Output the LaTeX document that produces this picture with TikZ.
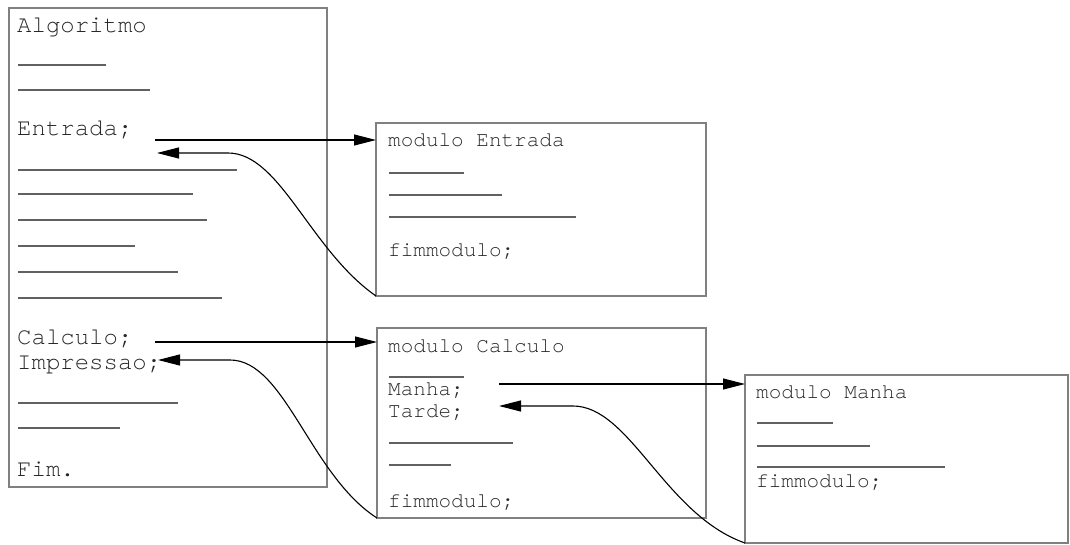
\documentclass[tikz,border=0pt]{standalone}
\usepackage{fontspec}
\setmonofont[Ligatures={NoCommon,NoRequired}]{TeX Gyre Cursor}
\usetikzlibrary{arrows.meta,calc}
\begin{document}
\begin{tikzpicture}[x=1pt,y=-1pt,
  box/.style={draw=black!50, line width=2.2pt, anchor=north west, inner sep=0pt, outer sep=0pt},
  big/.style={font=\ttfamily\fontsize{24}{28}\selectfont, text=black!85, anchor=base west, inner sep=0pt},
  small/.style={font=\ttfamily\fontsize{21}{25}\selectfont, text=black!85, anchor=base west, inner sep=0pt},
  rul/.style={draw=black!62, line width=1.8pt},
  conn/.style={draw=black, line width=1.1pt, -{Triangle[length=22pt,width=11pt]}}]
\useasboundingbox (0,0) rectangle (1070,545);
% boxes
\node[box, minimum width=318pt, minimum height=479pt] (main) at (9,8) {};
\node[box, minimum width=330pt, minimum height=173pt] (mEnt) at (376,123) {};
\node[box, minimum width=329pt, minimum height=190pt] (mCal) at (377,328) {};
\node[box, minimum width=323pt, minimum height=168pt] (mMan) at (745,375) {};
% main algorithm
\node[big] (tAlg) at (17,33) {Algoritmo};
\draw[rul] (18,65) -- (106,65);
\draw[rul] (18,90) -- (150,90);
\node[big] (tEnt) at (17,136) {Entrada;};
\draw[rul] (18,170) -- (237,170);
\draw[rul] (18,194) -- (193,194);
\draw[rul] (18,220) -- (207,220);
\draw[rul] (18,246) -- (135,246);
\draw[rul] (18,272) -- (178,272);
\draw[rul] (18,298) -- (222,298);
\node[big] (tCal) at (17,344) {Calculo;};
\node[big] (tImp) at (17,369) {Impressao;};
\draw[rul] (18,403) -- (178,403);
\draw[rul] (18,428) -- (120,428);
\node[big] (tFim) at (17,476) {Fim.};
% modulo Entrada
\node[small] (eHead) at (388,147) {modulo Entrada};
\draw[rul] (389,173) -- (464,173);
\draw[rul] (389,195) -- (502,195);
\draw[rul] (389,217) -- (576,217);
\node[small] (eEnd) at (388,256) {fimmodulo;};
% modulo Calculo
\node[small] (cHead) at (388,352) {modulo Calculo};
\draw[rul] (389,377) -- (464,377);
\node[small] (cMan) at (388,395) {Manha;};
\node[small] (cTar) at (388,417) {Tarde;};
\draw[rul] (389,443) -- (513,443);
\draw[rul] (389,465) -- (451,465);
\node[small] (cEnd) at (388,507) {fimmodulo;};
% modulo Manha
\node[small] (mHead) at (756,398) {modulo Manha};
\draw[rul] (757,423) -- (833,423);
\draw[rul] (757,446) -- (870,446);
\draw[rul] (757,467) -- (945,467);
\node[small] (mEnd) at (756,487) {fimmodulo;};
% call arrows
\coordinate (c1) at (155,140);
\coordinate (c2) at (155,342);
\coordinate (c3) at (499,384);
\draw[conn] (c1) -- (c1 -| mEnt.west);
\draw[conn] (c2) -- (c2 -| mCal.west);
\draw[conn] (c3) -- (c3 -| mMan.west);
% return arrows
\coordinate (r1) at (157,153);
\coordinate (r2) at (158,360);
\coordinate (r3) at (499,406);
\draw[conn] (mEnt.south west) .. controls (310,250) and (280,153) .. (228,153) -- (r1);
\draw[conn] (mCal.south west) .. controls (310,475) and (285,360) .. (230,360) -- (r2);
\draw[conn] (mMan.south west) .. controls (665,515) and (630,406) .. (573,406) -- (r3);
\end{tikzpicture}
\end{document}
